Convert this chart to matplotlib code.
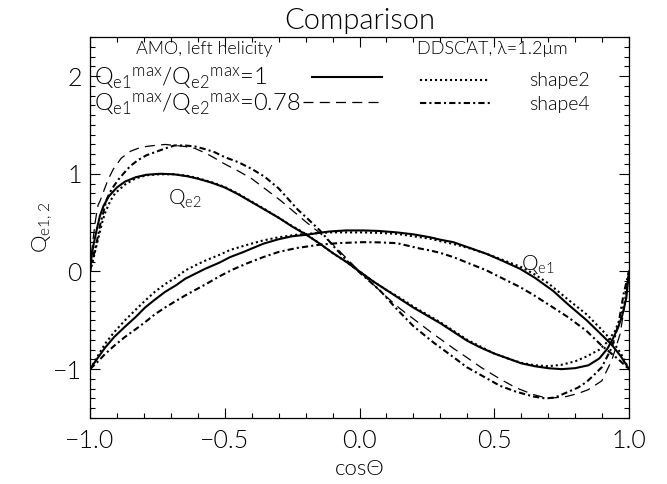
import matplotlib
matplotlib.use("Agg")
import matplotlib.pyplot as plt
from matplotlib.lines import Line2D
from matplotlib.ticker import MultipleLocator

# Q_e2 for AMO, Q_e1max/Q_e2max = 1 (solid)
amo_qe2_x = [-1.0, -0.993, -0.985, -0.975, -0.963, -0.95, -0.93, -0.90, -0.87, -0.83,
             -0.79, -0.74, -0.69, -0.64, -0.60, -0.55, -0.50, -0.45, -0.40, -0.35,
             -0.30, -0.25, -0.20, -0.15, -0.10, -0.05, 0.0, 0.05, 0.10, 0.15,
             0.20, 0.25, 0.30, 0.35, 0.40, 0.45, 0.50, 0.55, 0.60, 0.65,
             0.70, 0.75, 0.80, 0.85, 0.89, 0.92, 0.94, 0.96, 0.975, 0.99, 1.0]
amo_qe2_y = [0.0, 0.18, 0.30, 0.43, 0.57, 0.67, 0.77, 0.86, 0.92, 0.965,
             0.99, 1.0, 0.995, 0.975, 0.95, 0.91, 0.86, 0.79, 0.71, 0.63,
             0.55, 0.46, 0.38, 0.29, 0.19, 0.10, 0.0, -0.10, -0.19, -0.28,
             -0.37, -0.45, -0.53, -0.62, -0.71, -0.78, -0.84, -0.89, -0.94, -0.97,
             -0.99, -1.0, -0.99, -0.96, -0.89, -0.79, -0.69, -0.57, -0.45, -0.27, 0.0]

# Q_e1 for AMO (solid)
amo_qe1_x = [-1.0, -0.97, -0.944, -0.91, -0.87, -0.83, -0.796, -0.76, -0.722, -0.68,
             -0.647, -0.60, -0.573, -0.52, -0.48, -0.43, -0.357, -0.30, -0.25, -0.196,
             -0.15, -0.109, -0.05, 0.014, 0.07, 0.138, 0.20, 0.262, 0.30, 0.348,
             0.40, 0.472, 0.53, 0.596, 0.651, 0.719, 0.775, 0.843, 0.899, 0.936,
             0.97, 1.0]
amo_qe1_y = [-1.0, -0.88, -0.78, -0.67, -0.565, -0.465, -0.37, -0.29, -0.21, -0.14,
             -0.075, -0.01, 0.027, 0.09, 0.147, 0.20, 0.284, 0.33, 0.36, 0.376,
             0.395, 0.41, 0.42, 0.42, 0.415, 0.40, 0.38, 0.35, 0.325, 0.30,
             0.25, 0.18, 0.11, 0.027, -0.065, -0.20, -0.34, -0.50, -0.65, -0.75,
             -0.87, -1.0]

# Q_e2 for AMO, Q_e1max/Q_e2max = 0.78 (dashed)
amo78_qe2_x = [-1.0, -0.99, -0.98, -0.97, -0.963, -0.944, -0.933, -0.913, -0.884, -0.85,
               -0.822, -0.79, -0.76, -0.72, -0.686, -0.65, -0.611, -0.57, -0.537, -0.50,
               -0.451, -0.40, -0.352, -0.29, -0.20, -0.15, -0.10, -0.05, 0.0, 0.05,
               0.10, 0.15, 0.212, 0.274, 0.35, 0.398, 0.45, 0.521, 0.58, 0.645,
               0.70, 0.768, 0.81, 0.849, 0.899, 0.936, 0.967, 0.985, 1.0]
amo78_qe2_y = [0.0, 0.30, 0.52, 0.68, 0.72, 0.86, 0.94, 1.05, 1.16, 1.23,
               1.26, 1.28, 1.29, 1.30, 1.29, 1.28, 1.26, 1.21, 1.16, 1.10,
               1.03, 0.95, 0.85, 0.72, 0.51, 0.40, 0.28, 0.14, 0.0, -0.13,
               -0.26, -0.38, -0.51, -0.64, -0.79, -0.88, -0.98, -1.10, -1.19, -1.26,
               -1.30, -1.28, -1.25, -1.21, -1.12, -0.91, -0.64, -0.33, 0.0]

# DDSCAT shape2 (dotted)
shape2_qe2_x = [-1.0, -0.99, -0.98, -0.97, -0.955, -0.944, -0.925, -0.907, -0.87, -0.833,
                -0.79, -0.74, -0.69, -0.64, -0.60, -0.55, -0.50, -0.45, -0.40, -0.35,
                -0.30, -0.25, -0.20, -0.15, -0.10, -0.05, 0.0, 0.05, 0.10, 0.15,
                0.20, 0.25, 0.30, 0.35, 0.40, 0.45, 0.50, 0.55, 0.60, 0.65,
                0.70, 0.75, 0.80, 0.843, 0.89, 0.92, 0.948, 0.97, 0.985, 1.0]
shape2_qe2_y = [0.0, 0.10, 0.22, 0.33, 0.50, 0.60, 0.72, 0.80, 0.89, 0.95,
                0.985, 0.995, 0.995, 0.98, 0.955, 0.915, 0.865, 0.795, 0.715, 0.635,
                0.55, 0.465, 0.385, 0.29, 0.19, 0.10, 0.0, -0.10, -0.19, -0.27,
                -0.36, -0.44, -0.52, -0.61, -0.70, -0.77, -0.84, -0.89, -0.935, -0.96,
                -0.97, -0.955, -0.92, -0.87, -0.80, -0.72, -0.61, -0.46, -0.30, 0.0]
shape2_qe1_x = [-1.0, -0.97, -0.944, -0.91, -0.87, -0.83, -0.796, -0.76, -0.722, -0.68,
                -0.647, -0.60, -0.573, -0.52, -0.48, -0.42, -0.357, -0.30, -0.233, -0.17,
                -0.109, -0.05, 0.014, 0.07, 0.138, 0.20, 0.262, 0.30, 0.35, 0.41,
                0.472, 0.53, 0.60, 0.65, 0.70, 0.775, 0.843, 0.90, 0.94, 0.97, 1.0]
shape2_qe1_y = [-1.0, -0.86, -0.74, -0.62, -0.50, -0.39, -0.30, -0.21, -0.13, -0.06,
                0.01, 0.075, 0.11, 0.17, 0.22, 0.27, 0.318, 0.35, 0.376, 0.39,
                0.40, 0.40, 0.40, 0.395, 0.385, 0.36, 0.335, 0.31, 0.28, 0.235,
                0.18, 0.12, 0.045, -0.03, -0.12, -0.29, -0.44, -0.60, -0.72, -0.84, -1.0]

# DDSCAT shape4 (dash-dot)
shape4_qe2_x = [-1.0, -0.99, -0.975, -0.963, -0.938, -0.92, -0.895, -0.87, -0.85, -0.822,
                -0.79, -0.76, -0.72, -0.686, -0.65, -0.611, -0.57, -0.537, -0.50, -0.451,
                -0.40, -0.352, -0.30, -0.264, -0.228, -0.20, -0.147, -0.10, -0.047, 0.0,
                0.027, 0.076, 0.14, 0.20, 0.274, 0.35, 0.398, 0.45, 0.521, 0.58,
                0.645, 0.69, 0.725, 0.768, 0.81, 0.843, 0.87, 0.899, 0.936, 0.961,
                0.98, 1.0]
shape4_qe2_y = [0.0, 0.12, 0.30, 0.47, 0.74, 0.84, 0.94, 1.02, 1.08, 1.14,
                1.19, 1.22, 1.26, 1.29, 1.29, 1.28, 1.25, 1.22, 1.17, 1.12,
                1.05, 0.97, 0.85, 0.74, 0.63, 0.56, 0.42, 0.27, 0.11, -0.01,
                -0.075, -0.195, -0.39, -0.56, -0.726, -0.88, -0.98, -1.06, -1.17, -1.23,
                -1.28, -1.30, -1.29, -1.24, -1.19, -1.13, -1.06, -0.98, -0.78, -0.54,
                -0.23, 0.0]
shape4_qe1_x = [-1.0, -0.97, -0.944, -0.91, -0.87, -0.83, -0.796, -0.76, -0.722, -0.68,
                -0.647, -0.60, -0.573, -0.52, -0.47, -0.42, -0.357, -0.30, -0.233, -0.147,
                -0.08, 0.014, 0.07, 0.138, 0.224, 0.262, 0.30, 0.348, 0.40, 0.472,
                0.53, 0.596, 0.651, 0.719, 0.775, 0.843, 0.899, 0.961, 1.0]
shape4_qe1_y = [-1.0, -0.92, -0.845, -0.76, -0.67, -0.59, -0.52, -0.44, -0.37, -0.30,
                -0.246, -0.175, -0.135, -0.05, 0.02, 0.08, 0.147, 0.20, 0.24, 0.274,
                0.29, 0.30, 0.298, 0.29, 0.235, 0.215, 0.19, 0.147, 0.09, 0.01,
                -0.07, -0.16, -0.25, -0.37, -0.47, -0.61, -0.76, -0.90, -1.0]

amo_labels = [r"$Q_{e1}{}^{max}/Q_{e2}{}^{max}$=1", r"$Q_{e1}{}^{max}/Q_{e2}{}^{max}$=0.78"]
ddscat_labels = ["shape2", "shape4"]

plt.rcParams["font.family"] = ["Lato", "DejaVu Sans"]
plt.rcParams["font.weight"] = 300          # thin strokes, closer to the IDL vector font
plt.rcParams["axes.titleweight"] = 300
plt.rcParams["axes.labelweight"] = 300
plt.rcParams["mathtext.default"] = "regular"

SOLID = dict(color="black", lw=1.5, ls="-")
DASHED = dict(color="black", lw=0.9, ls=(0, (8, 5)))
DOTTED = dict(color="black", lw=1.5, ls=(0, (1, 1.4)))
DASHDOT = dict(color="black", lw=1.5, ls=(0, (3, 1.5, 1, 1.5)))

fig = plt.figure(figsize=(6.67, 4.84), dpi=100)
ax = fig.add_axes([90 / 667, 66 / 484, 539 / 667, 381 / 484])

ax.plot(amo78_qe2_x, amo78_qe2_y, **DASHED)
ax.plot(shape4_qe2_x, shape4_qe2_y, **DASHDOT)
ax.plot(shape4_qe1_x, shape4_qe1_y, **DASHDOT)
ax.plot(shape2_qe2_x, shape2_qe2_y, **DOTTED)
ax.plot(shape2_qe1_x, shape2_qe1_y, **DOTTED)
ax.plot(amo_qe2_x, amo_qe2_y, **SOLID)
ax.plot(amo_qe1_x, amo_qe1_y, **SOLID)

ax.set_xlim(-1.0, 1.0)
ax.set_ylim(-1.5, 2.4)
ax.xaxis.set_major_locator(MultipleLocator(0.5))
ax.xaxis.set_minor_locator(MultipleLocator(0.1))
ax.yaxis.set_major_locator(MultipleLocator(1))
ax.yaxis.set_minor_locator(MultipleLocator(0.1))
ax.tick_params(which="both", direction="in", top=True, right=True, width=0.8,
               labelsize=18)
ax.tick_params(which="major", length=7)
ax.tick_params(which="minor", length=3.5)
ax.tick_params(axis="x", pad=8)
ax.tick_params(axis="y", pad=6)
for sp in ax.spines.values():
    sp.set_linewidth(0.9)

ax.set_title("Comparison", fontsize=21, pad=6)
ax.set_xlabel("cos\u0398", fontsize=16, labelpad=4)
ax.set_ylabel(r"$Q_{e1,2}$", fontsize=16, labelpad=-2)

# curve labels
ax.text(-0.71, 0.69, r"$Q_{e2}$", fontsize=15, va="baseline")
ax.text(0.60, 0.02, r"$Q_{e1}$", fontsize=15, va="baseline")

# left block, IDL style: label first, then the line sample (one legend per row)
leg_a = ax.legend([Line2D([], [], **SOLID)], amo_labels[:1],
                  loc="upper left", bbox_to_anchor=(0.008, 0.925), frameon=False,
                  markerfirst=False, fontsize=17, handlelength=2.95,
                  handletextpad=1.9, borderpad=0, borderaxespad=0)
ax.add_artist(leg_a)
leg_b = ax.legend([Line2D([], [], **DASHED)], amo_labels[1:],
                  loc="upper left", bbox_to_anchor=(0.008, 0.859), frameon=False,
                  markerfirst=False, fontsize=17, handlelength=3.4,
                  handletextpad=0.1, borderpad=0, borderaxespad=0)
ax.add_artist(leg_b)
ax.legend([Line2D([], [], **DOTTED), Line2D([], [], **DASHDOT)], ddscat_labels,
          loc="upper left", bbox_to_anchor=(0.612, 0.907), frameon=False,
          fontsize=14, handlelength=3.6, handletextpad=2.0, labelspacing=0.35,
          borderpad=0, borderaxespad=0)

ax.text(0.085, 0.968, "AMO, left helicity", transform=ax.transAxes,
        fontsize=13, va="center")
ax.text(0.607, 0.968, "DDSCAT, \u03bb=1.2\u03bcm", transform=ax.transAxes,
        fontsize=13, va="center")

fig.savefig("out.png", dpi=100)
